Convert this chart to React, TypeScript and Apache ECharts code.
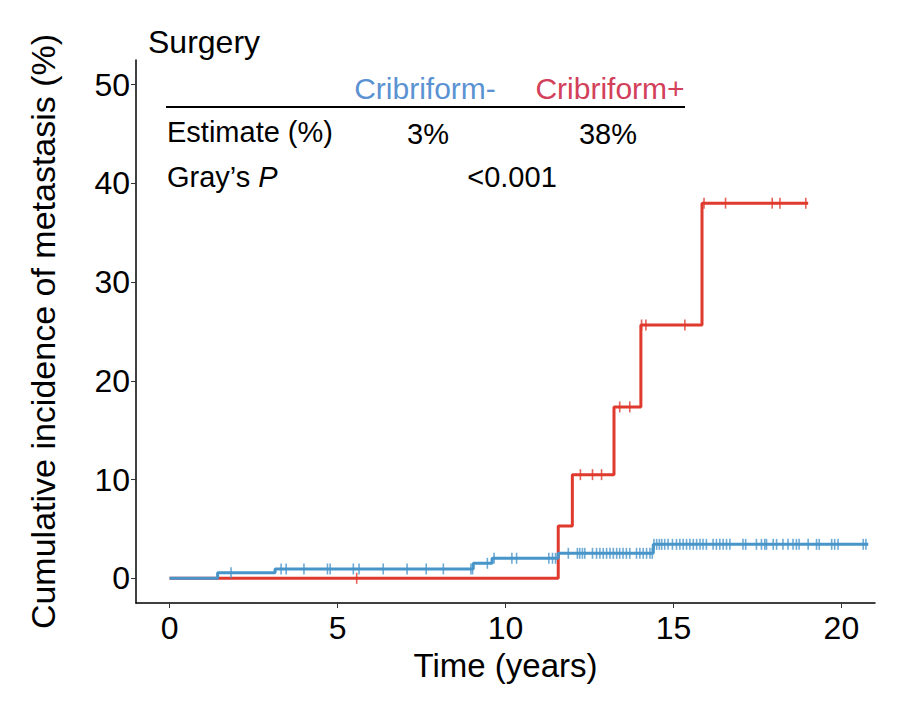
import React, { useEffect, useRef } from "react";
import * as echarts from "echarts";

// Step curves (time in years, cumulative incidence in %)
const blueTimes = [0, 1.43, 3.14, 9.04, 9.6, 11.57, 14.4, 20.8];
const blueValues = [0, 0.57, 0.95, 1.52, 2.03, 2.53, 3.44, 3.44];
const redTimes = [0, 11.57, 11.99, 13.23, 14.03, 15.85, 19.01];
const redValues = [0, 5.3, 10.5, 17.36, 25.66, 38.0, 38.0];

// Censoring marks (time in years)
const blueCensorTimes = [
  1.83,
  3.32, 3.47, 4.0, 4.7, 4.78, 5.47, 5.64, 6.36, 7.07, 7.64, 8.15, 8.97, 9.02,
  9.46,
  9.66, 10.19, 10.33, 11.29, 11.4, 11.49,
  11.87, 12.14, 12.21, 12.29, 12.36, 12.59, 12.71, 12.81, 12.91, 13.01, 13.11,
  13.21, 13.31, 13.4, 13.5, 13.6, 13.7, 13.9, 14.0, 14.1, 14.2, 14.3, 14.37,
  14.42, 14.5, 14.58, 14.65, 14.74, 14.84, 14.97, 15.09, 15.19, 15.29, 15.39,
  15.49, 15.59, 15.69, 15.79, 15.88, 15.98, 16.18, 16.28, 16.38, 16.48, 16.58,
  16.68, 17.07, 17.15, 17.47, 17.62, 17.72, 17.77, 17.97, 18.07, 18.26, 18.41,
  18.56, 18.66, 18.74, 19.01, 19.26, 19.34, 19.71, 19.8, 19.9, 20.65, 20.73,
];
const redCensorTimes = [
  5.57, 12.23, 12.59, 12.86, 13.4, 13.7, 14.05, 14.18, 15.34, 15.91, 16.55,
  17.94, 18.17, 18.94,
];

const xTicks = [0, 5, 10, 15, 20];
const yTicks = [0, 10, 20, 30, 40, 50];

const groupNames = ["Cribriform-", "Cribriform+"];
const estimates = ["3%", "38%"];
const pValue = "<0.001";

const BLUE = "#4895c9";
const RED = "#e0392d";
const BLUE_TEXT = "#5b92d2";
const RED_TEXT = "#d3405a";
const FONT = "'Liberation Sans', Arial, Helvetica, sans-serif";

function stepAt(times: number[], values: number[], t: number) {
  let v = values[0];
  for (let i = 0; i < times.length; i++) {
    if (times[i] <= t) v = values[i];
  }
  return v;
}

export default function App() {
  const ref = useRef<HTMLDivElement>(null);

  useEffect(() => {
    const chart = echarts.init(ref.current!, null, { renderer: "svg" });

    const blueLine = blueTimes.map((t, i) => [t, blueValues[i]]);
    const redLine = redTimes.map((t, i) => [t, redValues[i]]);
    const blueCensor = blueCensorTimes.map((t) => [t, stepAt(blueTimes, blueValues, t)]);
    const redCensor = redCensorTimes.map((t) => [t, stepAt(redTimes, redValues, t)]);

    const txt = (
      text: string,
      x: number,
      y: number,
      align: string,
      fontSize: number,
      fill = "#000"
    ) => ({
      type: "text",
      x,
      y,
      style: {
        text,
        fontSize,
        fontFamily: FONT,
        fill,
        align,
        verticalAlign: "middle",
      },
    });

    chart.setOption({
      animation: false,
      backgroundColor: "#ffffff",
      textStyle: { fontFamily: FONT },
      grid: { left: 136, right: 47, top: 60, bottom: 99, containLabel: false },
      xAxis: {
        type: "value",
        min: -1,
        max: 21,
        name: "Time (years)",
        nameLocation: "middle",
        nameGap: 44,
        nameTextStyle: { fontSize: 33, color: "#000", fontFamily: FONT },
        axisLine: { show: true, onZero: false, lineStyle: { color: "#000", width: 1.5 } },
        axisTick: {
          show: true,
          length: 5,
          customValues: xTicks,
          lineStyle: { color: "#333", width: 1 },
        },
        axisLabel: {
          customValues: xTicks,
          fontSize: 32,
          color: "#000",
          margin: 9,
          fontFamily: FONT,
        },
        splitLine: { show: false },
      },
      yAxis: {
        type: "value",
        min: -2.5,
        max: 52.5,
        name: "Cumulative incidence of metastasis (%)",
        nameLocation: "middle",
        nameGap: 76,
        nameTextStyle: { fontSize: 34, color: "#000", fontFamily: FONT },
        axisLine: { show: true, onZero: false, lineStyle: { color: "#000", width: 1.5 } },
        axisTick: {
          show: true,
          length: 5,
          customValues: yTicks,
          lineStyle: { color: "#333", width: 1 },
        },
        axisLabel: {
          customValues: yTicks,
          fontSize: 32,
          color: "#000",
          margin: 6,
          fontFamily: FONT,
        },
        splitLine: { show: false },
      },
      series: [
        {
          name: groupNames[1],
          type: "line",
          step: "end",
          data: redLine,
          showSymbol: false,
          lineStyle: { color: RED, width: 3 },
          z: 2,
        },
        {
          name: groupNames[0],
          type: "line",
          step: "end",
          data: blueLine,
          showSymbol: false,
          lineStyle: { color: BLUE, width: 3 },
          z: 3,
        },
        {
          name: groupNames[1] + " censored",
          type: "scatter",
          data: redCensor,
          symbol: "rect",
          symbolSize: [1.6, 11],
          itemStyle: { color: RED },
          z: 4,
        },
        {
          name: groupNames[0] + " censored",
          type: "scatter",
          data: blueCensor,
          symbol: "rect",
          symbolSize: [1.6, 11],
          itemStyle: { color: BLUE },
          z: 5,
        },
      ],
      graphic: [
        txt("Surgery", 148, 42, "left", 32),
        txt(groupNames[0], 425, 88, "center", 30, BLUE_TEXT),
        txt(groupNames[1], 610, 88, "center", 30, RED_TEXT),
        {
          type: "line",
          shape: { x1: 166, y1: 107, x2: 685, y2: 107 },
          style: { stroke: "#000", lineWidth: 2 },
        },
        txt("Estimate (%)", 167, 132, "left", 29),
        txt(estimates[0], 428, 134, "center", 29),
        txt(estimates[1], 608, 134, "center", 29),
        {
          type: "text",
          x: 167,
          y: 177,
          style: {
            text: "{a|Gray’s }{b|P}",
            fontSize: 29,
            fontFamily: FONT,
            fill: "#000",
            align: "left",
            verticalAlign: "middle",
            rich: {
              a: { fontSize: 29, fontFamily: FONT, fill: "#000" },
              b: { fontSize: 29, fontFamily: FONT, fill: "#000", fontStyle: "italic" },
            },
          },
        },
        txt(pValue, 512, 177, "center", 29),
      ],
    });

    return () => chart.dispose();
  }, []);

  return (
    <div
      ref={ref}
      style={{ position: "fixed", left: 0, top: 0, width: 922, height: 702 }}
    />
  );
}
